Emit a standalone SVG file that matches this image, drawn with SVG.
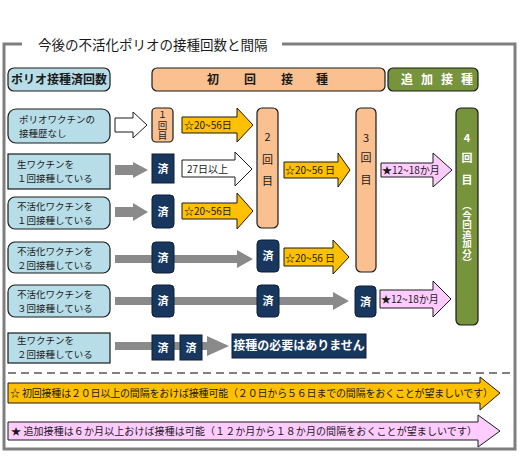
<svg xmlns="http://www.w3.org/2000/svg" width="520" height="456" viewBox="0 0 520 456">
<style>
text{font-family:"Noto Sans CJK JP","Noto Sans",sans-serif;fill:#1a1a1a}
.t10{font-size:10px}
.row{font-size:9.5px}
.hd{font-size:12px;font-weight:bold}
.w{fill:#fff;font-weight:bold}
.blue{fill:#b7dee8;stroke:#1a1a1a;stroke-width:1.2}
.org{fill:#fac090;stroke:#1a1a1a;stroke-width:1.2}
.grn{fill:#77933c;stroke:#1a1a1a;stroke-width:1.2}
.navy{fill:#17375e;stroke:#0d1f36;stroke-width:1}
.ya{fill:#ffc000;stroke:#1a1a1a;stroke-width:1}
.pa{fill:#ffccff;stroke:#1a1a1a;stroke-width:1}
.wa{fill:#fff;stroke:#1a1a1a;stroke-width:1}
.ga{fill:#8a8a8a}
.mid{text-anchor:middle}
.vt{writing-mode:vertical-rl}
</style>
<rect width="520" height="456" fill="#fff"/>
<g id="frame">
<path d="M22 44 H4 V449 H515 V44 H282" fill="none" stroke="#7f7f7f" stroke-width="3"/>
<text x="38" y="50" style="font-size:13.5px">今後の不活化ポリオの接種回数と間隔</text>
<line x1="8" y1="373" x2="513" y2="373" stroke="#808080" stroke-width="2" stroke-dasharray="8 5"/>
</g>
<g id="connectors">
<path class="ga" d="M115 165 H133 V162 L148 170 L133 178 V175 H115 Z"/>
<path class="ga" d="M115 207 H133 V203 L148 212 L133 221 V217 H115 Z"/>
<path class="ga" d="M115 255 H237 V250 L253 259 L237 268 V263 H115 Z"/>
<path class="ga" d="M115 297 H333 V292 L349 301 L333 310 V305 H115 Z"/>
<path class="ga" d="M115 342 H207 V336 L229 346 L207 356 V350 H115 Z"/>
<path class="wa" d="M115 118 H133 V112 L147 125 L133 138 V132 H115 Z"/>
<g id="a-r1"><path class="ya" d="M182 117 H237 V108 L253 125 L237 142 V133 H182 Z"/><text class="t10" x="184" y="129">☆20~56日</text></g>
<g id="a-r2"><path class="wa" d="M182 160 H235 V152 L252 169 L235 186 V177 H182 Z"/><text class="t10" x="187" y="173">27日以上</text></g>
<g id="a-r3"><path class="ya" d="M182 203 H237 V193 L253 211 L237 229 V219 H182 Z"/><text class="t10" x="184" y="215">☆20~56日</text></g>
<g id="a-r2b"><path class="ya" d="M284 162 H338 V153 L350 170 L338 187 V178 H284 Z"/><text class="t10" x="285" y="174">☆20~56 日</text></g>
<g id="a-r4"><path class="ya" d="M284 248 H333 V240 L349 257 L333 274 V266 H284 Z"/><text class="t10" x="285" y="262">☆20~56 日</text></g>
<g id="a-r2c"><path class="pa" d="M381 163 H433 V153 L452 170 L433 187 V177 H381 Z"/><text class="t10" x="382" y="174">★12~18か月</text></g>
<g id="a-r5"><path class="pa" d="M380 290 H433 V281 L451 299 L433 317 V308 H380 Z"/><text class="t10" x="381" y="303">★12~18か月</text></g>
</g>
<g id="hdr-left"><rect class="blue" x="8" y="68" width="102" height="23" rx="6" stroke-width="1.5"/><text class="hd mid" x="59" y="84">ポリオ接種済回数</text></g>
<g id="hdr-init"><rect class="org" x="152" y="68" width="233" height="23" rx="5" stroke-width="1.5"/><text class="hd mid" x="213 250 287 322" y="84">初回接種</text></g>
<g id="hdr-add"><rect class="grn" x="388" y="68" width="90" height="23" rx="5" stroke-width="1.5"/><text class="hd mid w" x="407 427 447 467" y="84">追加接種</text></g>
<g id="r1"><rect class="blue" x="8" y="109" width="102" height="34" rx="8" stroke-width="3"/><text class="row" x="19" y="123">ポリオワクチンの</text><text class="row" x="19" y="137">接種歴なし</text></g>
<g id="r2"><rect class="blue" x="8" y="154" width="102" height="35"/><text class="row" x="17" y="168">生ワクチンを</text><text class="row" x="17" y="182">１回接種している</text></g>
<g id="r3"><rect class="blue" x="8" y="197" width="102" height="32" rx="7"/><text class="row" x="17" y="210">不活化ワクチンを</text><text class="row" x="17" y="224">１回接種している</text></g>
<g id="r4"><rect class="blue" x="8" y="242" width="102" height="31" rx="7"/><text class="row" x="17" y="255">不活化ワクチンを</text><text class="row" x="17" y="269">２回接種している</text></g>
<g id="r5"><rect class="blue" x="8" y="285" width="102" height="32" rx="7"/><text class="row" x="17" y="298">不活化ワクチンを</text><text class="row" x="17" y="312">３回接種している</text></g>
<g id="r6"><rect class="blue" x="8" y="333" width="102" height="30"/><text class="row" x="17" y="344">生ワクチンを</text><text class="row" x="17" y="358">２回接種している</text></g>
<g id="d1"><rect class="org" x="152" y="108" width="21" height="34" rx="4"/><text class="vt" style="font-size:9.5px;letter-spacing:1px" x="162.5" y="110">１回目</text></g>
<g id="d2"><rect class="org" x="257" y="108" width="21" height="120" rx="5"/><text class="mid" style="font-size:11px" x="267.5" y="141">2</text><text class="mid" style="font-size:11px" x="267.5" y="164">回</text><text class="mid" style="font-size:11px" x="267.5" y="185">目</text></g>
<g id="d3"><rect class="org" x="356" y="108" width="20" height="164" rx="5"/><text class="mid" style="font-size:11px" x="366" y="142">3</text><text class="mid" style="font-size:11px" x="366" y="162">回</text><text class="mid" style="font-size:11px" x="366" y="184">目</text></g>
<g id="d4"><rect class="grn" x="456" y="108" width="22" height="217" rx="5"/><text class="mid w" style="font-size:11px" x="467" y="142">4</text><text class="mid w" style="font-size:11px" x="467" y="162">回</text><text class="mid w" style="font-size:11px" x="467" y="184">目</text><text class="w vt" style="font-size:9.5px" x="467" y="201">（今回追加分）</text></g>
<g id="done">
<rect class="navy" x="152" y="154" width="22" height="29"/>
<rect class="navy" x="152" y="195" width="22" height="33" rx="4"/>
<rect class="navy" x="152" y="242" width="22" height="31" rx="4"/>
<rect class="navy" x="257" y="240" width="22" height="32" rx="4"/>
<rect class="navy" x="152" y="285" width="22" height="32" rx="4"/>
<rect class="navy" x="257" y="285" width="22" height="32" rx="4"/>
<rect class="navy" x="355" y="286" width="21" height="31" rx="4"/>
<rect class="navy" x="152" y="335" width="22" height="25"/>
<rect class="navy" x="180" y="335" width="22" height="25"/>
<text class="w mid" style="font-size:11px" x="163" y="173">済</text>
<text class="w mid" style="font-size:11px" x="163" y="216">済</text>
<text class="w mid" style="font-size:11px" x="163" y="262">済</text>
<text class="w mid" style="font-size:11px" x="268" y="260">済</text>
<text class="w mid" style="font-size:11px" x="163" y="305">済</text>
<text class="w mid" style="font-size:11px" x="268" y="305">済</text>
<text class="w mid" style="font-size:11px" x="365.5" y="306">済</text>
<text class="w mid" style="font-size:11px" x="163" y="352">済</text>
<text class="w mid" style="font-size:11px" x="191" y="352">済</text>
</g>
<g id="none"><rect class="navy" x="232" y="334" width="134" height="24"/><text class="w mid" style="font-size:12px" x="299" y="350">接種の必要はありません</text></g>
<g id="note1"><path class="ya" d="M8 383 H480 V377 L500 393 L480 410 V403 H8 Z"/><text class="t10" x="10" y="397" textLength="483" lengthAdjust="spacing">☆ 初回接種は２０日以上の間隔をおけば接種可能（２０日から５６日までの間隔をおくことが望ましいです）</text></g>
<g id="note2"><path class="pa" d="M8 422 H478 V415 L500 431 L478 447 V440 H8 Z"/><text class="t10" x="11" y="435" textLength="466" lengthAdjust="spacing">★ 追加接種は６か月以上おけば接種は可能（１２か月から１８か月の間隔をおくことが望ましいです）</text></g>
</svg>
